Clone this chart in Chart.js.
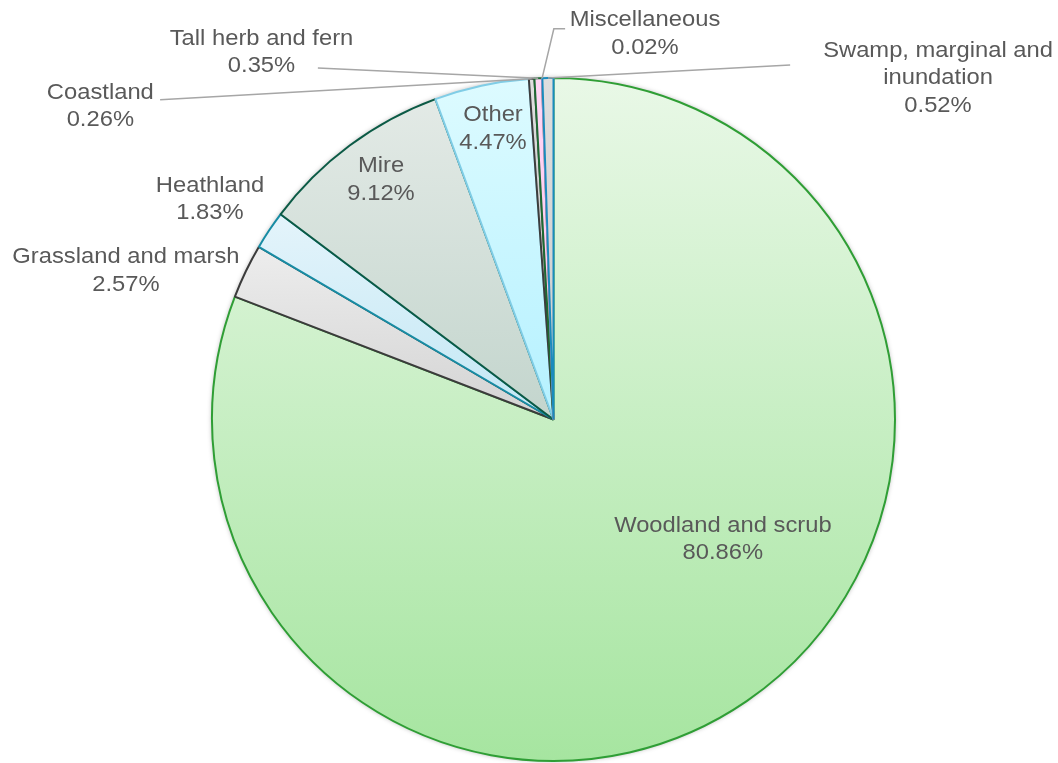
<!DOCTYPE html>
<html>
<head>
<meta charset="utf-8">
<script src="https://cdn.jsdelivr.net/npm/chart.js@4.4.1/dist/chart.umd.min.js"></script>
<style>
  html, body { margin: 0; padding: 0; background: #fff; }
  #wrap { width: 1058px; height: 763px; }
</style>
</head>
<body>
<div id="wrap"><canvas id="habitatChart" width="1058" height="763"></canvas></div>
<script>
// Habitat shares (%), listed clockwise from 12 o'clock
const habitats = ['Woodland and scrub', 'Grassland and marsh', 'Heathland', 'Mire', 'Other',
  'Coastland', 'Tall herb and fern', 'Miscellaneous', 'Swamp, marginal and inundation'];
const shares = [80.86, 2.57, 1.83, 9.12, 4.47, 0.26, 0.35, 0.02, 0.52];

// Slice look: gradient top, gradient bottom, outline
const fillTop    = ['#e9f8e7', '#ededed', '#e4f4fb', '#e3eae6', '#ddfbff', '#e0e0e0', '#ffd6f4', '#ffd6f4', '#dedede'];
const fillBottom = ['#a6e5a0', '#d3d3d3', '#c2e7f4', '#c3d5cd', '#b5f1ff', '#bdbdbd', '#ffc4ee', '#ffc4ee', '#cccccc'];
const edge       = ['#2f9e35', '#3b3b3b', '#178ca4', '#0b5a45', '#80cde6', '#3d3d3d', '#1d6a32', '#f29ad8', '#1a8bbd'];

// Where each label sits, in pie radii from the centre; leader = bend points toward the slice
const labelSpots = [
  { dx: 0.496, dy: 0.351 },
  { dx: -1.252, dy: -0.435 },
  { dx: -1.006, dy: -0.644 },
  { dx: -0.505, dy: -0.701 },
  { dx: -0.177, dy: -0.851 },
  { dx: -1.327, dy: -0.917, leader: [[-1.152, -0.936]] },
  { dx: -0.855, dy: -1.075, leader: [[-0.690, -1.029]] },
  { dx: 0.268, dy: -1.129, leader: [[0.034, -1.144], [0.001, -1.144]] },
  { dx: 1.126, dy: -1.000, leader: [[0.693, -1.038]] }
];
const wrapAt = { 'Swamp, marginal and inundation': ['Swamp, marginal and', 'inundation'] };

// bounding box of a pie sector, used to stretch each slice's gradient over its own height
function sectorBox(cx, cy, r, a0, a1) {
  let top = Math.min(cy, cy + r * Math.sin(a0), cy + r * Math.sin(a1));
  let bottom = Math.max(cy, cy + r * Math.sin(a0), cy + r * Math.sin(a1));
  for (let k = -2; k <= 4; k++) {
    const a = k * Math.PI / 2;
    if (a > a0 && a < a1) {
      top = Math.min(top, cy + r * Math.sin(a));
      bottom = Math.max(bottom, cy + r * Math.sin(a));
    }
  }
  return { top, bottom };
}

function sliceFill(context) {
  const i = context.dataIndex;
  const chart = context.chart;
  const area = chart.chartArea;
  if (!area) return fillTop[i];
  const cx = (area.left + area.right) / 2;
  const cy = (area.top + area.bottom) / 2;
  const r = Math.min(area.right - area.left, area.bottom - area.top) / 2;
  const total = shares.reduce((a, b) => a + b, 0);
  const before = shares.slice(0, i).reduce((a, b) => a + b, 0);
  const a0 = -Math.PI / 2 + before / total * 2 * Math.PI;
  const a1 = a0 + shares[i] / total * 2 * Math.PI;
  const box = sectorBox(cx, cy, r, a0, a1);
  const g = chart.ctx.createLinearGradient(0, box.top, 0, box.bottom);
  g.addColorStop(0, fillTop[i]);
  g.addColorStop(1, fillBottom[i]);
  return g;
}

// soft shadow round the pie rim
const rimShadow = {
  id: 'rimShadow',
  beforeDatasetsDraw(chart) {
    const arc = chart.getDatasetMeta(0).data[0];
    if (!arc) return;
    const ctx = chart.ctx;
    ctx.save();
    ctx.beginPath();
    ctx.arc(arc.x, arc.y, arc.outerRadius, 0, Math.PI * 2);
    ctx.shadowColor = 'rgba(0,0,0,0.35)';
    ctx.shadowBlur = 5;
    ctx.fillStyle = '#ffffff';
    ctx.fill();
    ctx.restore();
  }
};

// category name + percentage, with grey leader lines for the thin slices
const sliceLabels = {
  id: 'sliceLabels',
  afterDatasetsDraw(chart) {
    const ctx = chart.ctx;
    const meta = chart.getDatasetMeta(0);
    const lineH = 27.5;
    meta.data.forEach((arc, i) => {
      const { x, y, startAngle, endAngle, outerRadius } =
        arc.getProps(['x', 'y', 'startAngle', 'endAngle', 'outerRadius'], true);
      const spot = labelSpots[i];
      const tx = x + spot.dx * outerRadius;
      const ty = y + spot.dy * outerRadius;

      if (spot.leader) {
        const mid = (startAngle + endAngle) / 2;
        ctx.save();
        ctx.strokeStyle = '#a6a6a6';
        ctx.lineWidth = 1.5;
        ctx.beginPath();
        spot.leader.forEach(([lx, ly], k) => {
          const px = x + lx * outerRadius, py = y + ly * outerRadius;
          if (k === 0) ctx.moveTo(px, py); else ctx.lineTo(px, py);
        });
        ctx.lineTo(x + Math.cos(mid) * outerRadius, y + Math.sin(mid) * outerRadius);
        ctx.stroke();
        ctx.restore();
      }

      const lines = (wrapAt[habitats[i]] || [habitats[i]]).concat(shares[i].toFixed(2) + '%');
      ctx.save();
      ctx.fillStyle = '#595959';
      ctx.font = '22px "Liberation Sans", Arial, sans-serif';
      ctx.textAlign = 'center';
      ctx.textBaseline = 'middle';
      lines.forEach((t, k) => {
        ctx.save();
        ctx.translate(tx, ty + (k - (lines.length - 1) / 2) * lineH);
        ctx.scale(1.08, 1);
        ctx.fillText(t, 0, 0);
        ctx.restore();
      });
      ctx.restore();
    });
  }
};

const ctx = document.getElementById('habitatChart').getContext('2d');
const habitatChart = new Chart(ctx, {
  type: 'pie',
  data: {
    labels: habitats,
    datasets: [{
      data: shares,
      backgroundColor: sliceFill,
      borderColor: edge,
      borderWidth: 2
    }]
  },
  options: {
    responsive: false,
    animation: false,
    layout: { padding: { top: 77, bottom: 1, left: 49, right: 0 } },
    plugins: {
      legend: { display: false },
      tooltip: { enabled: false }
    }
  },
  plugins: [rimShadow, sliceLabels]
});
</script>
</body>
</html>
